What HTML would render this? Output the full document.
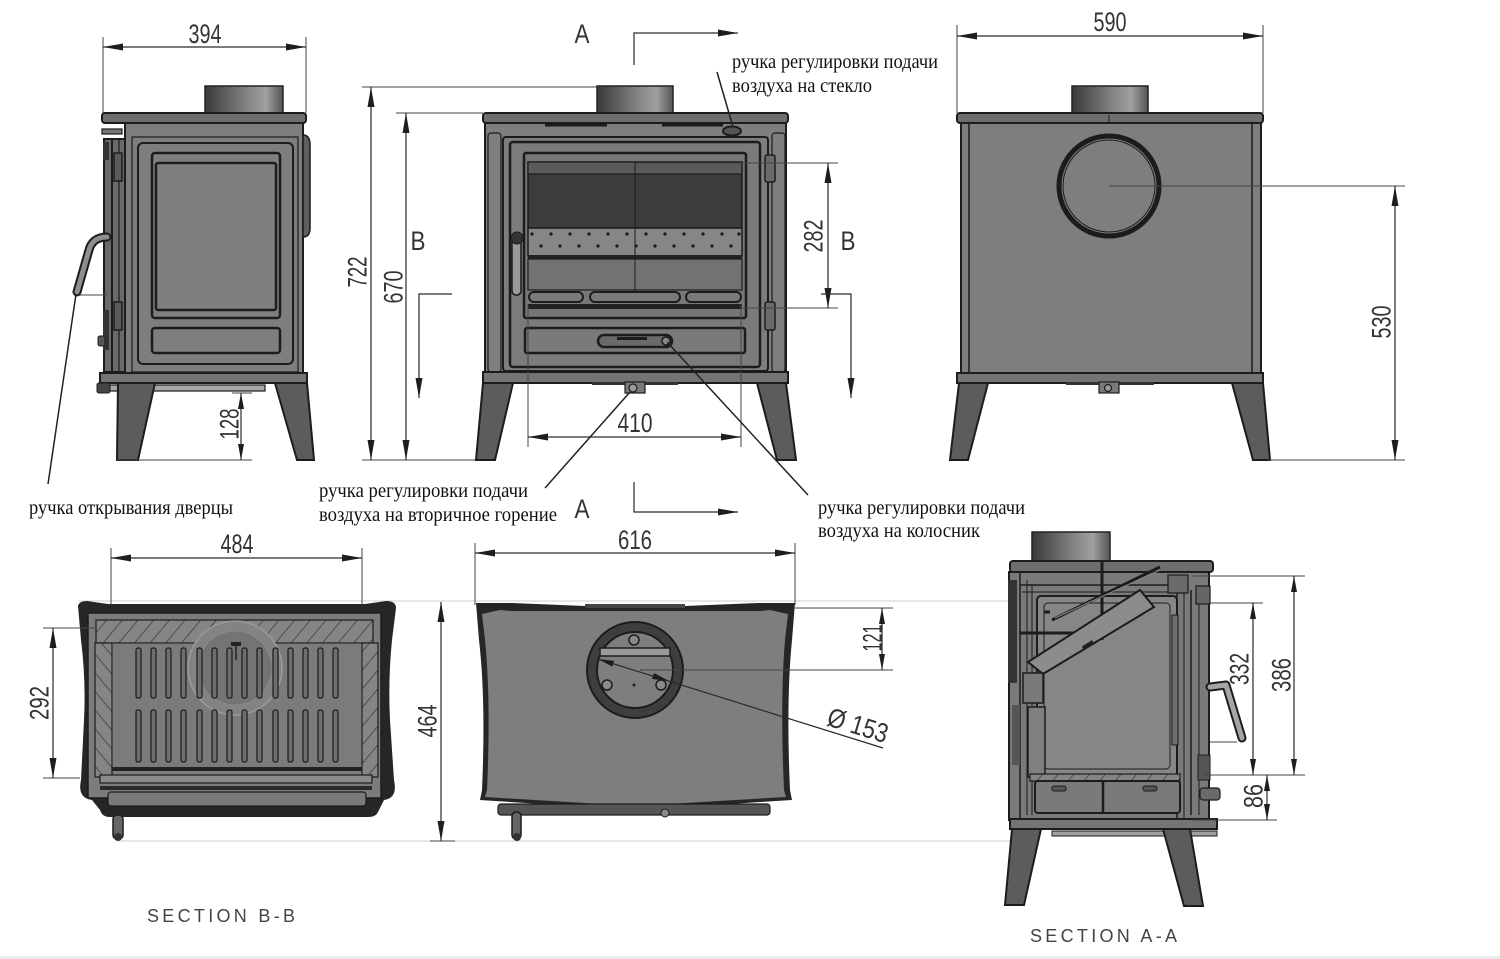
<!DOCTYPE html>
<html><head><meta charset="utf-8">
<style>
html,body{margin:0;padding:0;background:#fff;}
svg{display:block;}
.dim{stroke:#2a2a2a;stroke-width:1.2;fill:none;}
.ext{stroke:#444;stroke-width:1;fill:none;}
.fnt{stroke:#cfcfcf;stroke-width:1;fill:none;}
.n{font-family:"Liberation Sans",sans-serif;font-size:27px;fill:#333;}
.lbl{font-family:"Liberation Serif","DejaVu Serif",serif;font-size:20px;fill:#111;}
.sec{font-family:"Liberation Sans",sans-serif;font-size:18px;fill:#444;}
.o{stroke:#1c1c1c;stroke-width:2;}
.t{stroke:#1c1c1c;stroke-width:1.2;fill:none;}
</style></head><body>
<svg width="1500" height="959" viewBox="0 0 1500 959" xmlns="http://www.w3.org/2000/svg">
<defs>
<marker id="ar" viewBox="0 0 20 7" refX="20" refY="3.5" markerWidth="20" markerHeight="7" markerUnits="userSpaceOnUse" orient="auto-start-reverse"><path d="M0,0L20,3.5L0,7z" fill="#1e1e1e"/></marker>
<marker id="as" viewBox="0 0 16 6" refX="16" refY="3" markerWidth="16" markerHeight="6" markerUnits="userSpaceOnUse" orient="auto-start-reverse"><path d="M0,0L16,3L0,6z" fill="#1e1e1e"/></marker>
<linearGradient id="pipe" x1="0" x2="1" y1="0" y2="0"><stop offset="0" stop-color="#3a3a3a"/><stop offset="0.55" stop-color="#858585"/><stop offset="0.78" stop-color="#a0a0a0"/><stop offset="1" stop-color="#555"/></linearGradient>
<pattern id="hatch" width="12" height="12" patternUnits="userSpaceOnUse" patternTransform="rotate(40)"><rect width="12" height="12" fill="#858585"/><line x1="0" y1="0" x2="0" y2="12" stroke="#2a2a2a" stroke-width="1.2"/></pattern>
<pattern id="hatch2" width="12" height="12" patternUnits="userSpaceOnUse" patternTransform="rotate(-40)"><rect width="12" height="12" fill="#858585"/><line x1="0" y1="0" x2="0" y2="12" stroke="#2a2a2a" stroke-width="1.2"/></pattern>
</defs>
<rect width="1500" height="959" fill="#fff"/>
<rect x="0" y="956" width="1500" height="3" fill="#ececec"/>

<!-- ============ LEFT SIDE VIEW ============ -->
<line class="ext" x1="103" y1="37" x2="103" y2="113"/>
<line class="ext" x1="306" y1="37" x2="306" y2="113"/>
<line class="dim" x1="103" y1="47" x2="306" y2="47" marker-start="url(#ar)" marker-end="url(#ar)"/>
<text class="n" x="205" y="43" text-anchor="middle" textLength="33" lengthAdjust="spacingAndGlyphs">394</text>

<rect x="205" y="86" width="78" height="27" fill="url(#pipe)" stroke="#222" stroke-width="1.5"/>
<rect x="102" y="113" width="204" height="10" rx="3" fill="#6e6e6e" class="o"/>
<rect x="102" y="129" width="20" height="5" fill="#777" stroke="#1c1c1c" stroke-width="1.2"/>
<rect x="125" y="123" width="178" height="250" fill="#7e7e7e" class="o"/>
<rect x="132" y="137" width="166" height="235" fill="none" class="t"/>
<rect x="138" y="143" width="155" height="221" rx="5" fill="none" class="o"/>
<rect x="152" y="153" width="128" height="165" rx="3" fill="none" stroke="#1c1c1c" stroke-width="2.5"/>
<rect x="156" y="163" width="120" height="147" rx="2" fill="none" stroke="#1c1c1c" stroke-width="2.5"/>
<rect x="152" y="328" width="128" height="25" rx="3" fill="none" stroke="#1c1c1c" stroke-width="2.5"/>
<rect x="104" y="139" width="21" height="233" fill="#6a6a6a" class="o"/>
<line x1="112" y1="139" x2="112" y2="372" stroke="#1c1c1c" stroke-width="2"/>
<line x1="119" y1="139" x2="119" y2="372" stroke="#1c1c1c" stroke-width="1.2"/>
<rect x="114" y="153" width="8" height="28" fill="#5a5a5a" stroke="#1c1c1c" stroke-width="1.5"/>
<rect x="114" y="302" width="8" height="28" fill="#5a5a5a" stroke="#1c1c1c" stroke-width="1.5"/>
<rect x="103" y="142" width="6" height="18" fill="#333"/>
<rect x="103" y="310" width="6" height="40" fill="#333"/>
<rect x="98" y="336" width="7" height="10" rx="2" fill="#555" stroke="#1c1c1c"/>
<path d="M303,135 Q310,135 310,145 L310,228 Q310,237 303,237z" fill="#5e5e5e" stroke="#1c1c1c" stroke-width="1.5"/>
<rect x="100" y="373" width="207" height="10" fill="#747474" class="o"/>
<rect x="100" y="385" width="165" height="6" fill="#a8a8a8" stroke="#1c1c1c" stroke-width="1.2"/>
<rect x="97" y="383" width="13" height="10" rx="2" fill="#444" stroke="#1c1c1c"/>
<polygon points="118,383 155,383 138,460 117,460" fill="#5c5c5c" class="o"/>
<polygon points="275,383 307,383 314,460 297,460" fill="#5c5c5c" class="o"/>
<path d="M107,237 C97,237 91,242 89,250 L77,292" fill="none" stroke="#1c1c1c" stroke-width="9" stroke-linecap="round"/>
<path d="M107,237 C97,237 91,242 89,250 L77,292" fill="none" stroke="#8e8e8e" stroke-width="5" stroke-linecap="round"/>
<line class="ext" x1="80" y1="295" x2="107" y2="295"/>
<line x1="76" y1="294" x2="48" y2="484" stroke="#222" stroke-width="1.5"/>
<line class="ext" x1="232" y1="393" x2="252" y2="393"/>
<line class="ext" x1="117" y1="460" x2="252" y2="460"/>
<line class="dim" x1="241" y1="393" x2="241" y2="460" marker-start="url(#as)" marker-end="url(#as)"/>
<text class="n" transform="translate(229,424) rotate(-90)" text-anchor="middle" dy="9.5" textLength="31" lengthAdjust="spacingAndGlyphs">128</text>

<line class="ext" x1="362" y1="87" x2="597" y2="87"/>
<line class="ext" x1="396" y1="113" x2="483" y2="113"/>
<line class="ext" x1="362" y1="460" x2="478" y2="460"/>
<line class="dim" x1="371" y1="87" x2="371" y2="460" marker-start="url(#ar)" marker-end="url(#ar)"/>
<line class="dim" x1="406" y1="113" x2="406" y2="460" marker-start="url(#ar)" marker-end="url(#ar)"/>
<text class="n" transform="translate(357,272) rotate(-90)" text-anchor="middle" dy="9.5" textLength="31" lengthAdjust="spacingAndGlyphs">722</text>
<text class="n" transform="translate(393,287) rotate(-90)" text-anchor="middle" dy="9.5" textLength="33" lengthAdjust="spacingAndGlyphs">670</text>
<text class="n" x="418" y="250" text-anchor="middle" textLength="15" lengthAdjust="spacingAndGlyphs">B</text>
<polyline class="dim" points="452,294 419,294 419,398" marker-end="url(#ar)"/>

<!-- ============ FRONT VIEW ============ -->
<rect x="597" y="86" width="76" height="27" fill="url(#pipe)" stroke="#222" stroke-width="1.5"/>
<rect x="483" y="113" width="305" height="10" rx="3" fill="#6e6e6e" class="o"/>
<rect x="485" y="123" width="301" height="250" fill="#7e7e7e" class="o"/>
<line x1="545" y1="125" x2="607" y2="125" stroke="#1c1c1c" stroke-width="3"/>
<line x1="662" y1="125" x2="723" y2="125" stroke="#1c1c1c" stroke-width="3"/>
<rect x="488" y="133" width="13" height="239" rx="3" fill="none" class="t"/>
<rect x="772" y="133" width="13" height="239" rx="3" fill="none" class="t"/>
<ellipse cx="732" cy="131" rx="9" ry="4.5" fill="#555" stroke="#1c1c1c" stroke-width="2"/>
<rect x="503" y="137" width="265" height="234" rx="3" fill="none" class="o"/>
<rect x="510" y="142" width="250" height="225" rx="3" fill="#7b7b7b" stroke="#1c1c1c" stroke-width="2.5"/>
<rect x="524" y="153" width="222" height="165" rx="2" fill="#777" stroke="#1c1c1c" stroke-width="2.5"/>
<rect x="528" y="162" width="214" height="66" fill="#3c3c3c" stroke="#1c1c1c" stroke-width="1.5"/>
<rect x="528" y="162" width="214" height="12" fill="#5a5a5a" stroke="#1c1c1c" stroke-width="1.2"/>
<rect x="528" y="228" width="214" height="28" fill="#868686" stroke="#1c1c1c" stroke-width="1.5"/>
<g fill="#1c1c1c">
<circle cx="532" cy="234" r="1.6"/><circle cx="551" cy="234" r="1.6"/><circle cx="570" cy="234" r="1.6"/><circle cx="589" cy="234" r="1.6"/><circle cx="608" cy="234" r="1.6"/><circle cx="627" cy="234" r="1.6"/><circle cx="646" cy="234" r="1.6"/><circle cx="665" cy="234" r="1.6"/><circle cx="684" cy="234" r="1.6"/><circle cx="703" cy="234" r="1.6"/><circle cx="722" cy="234" r="1.6"/><circle cx="739" cy="234" r="1.6"/>
<circle cx="541" cy="246" r="1.6"/><circle cx="560" cy="246" r="1.6"/><circle cx="579" cy="246" r="1.6"/><circle cx="598" cy="246" r="1.6"/><circle cx="617" cy="246" r="1.6"/><circle cx="636" cy="246" r="1.6"/><circle cx="655" cy="246" r="1.6"/><circle cx="674" cy="246" r="1.6"/><circle cx="693" cy="246" r="1.6"/><circle cx="712" cy="246" r="1.6"/><circle cx="731" cy="246" r="1.6"/>
</g>
<rect x="528" y="255" width="214" height="4" fill="#222"/>
<rect x="528" y="259" width="214" height="31" fill="#727272" stroke="#1c1c1c" stroke-width="1.2"/>
<line x1="635" y1="162" x2="635" y2="300" stroke="#1c1c1c" stroke-width="1"/>
<rect x="529" y="292" width="54" height="10" rx="5" fill="#7a7a7a" class="o"/>
<rect x="590" y="292" width="90" height="10" rx="5" fill="#7a7a7a" class="o"/>
<rect x="686" y="292" width="55" height="10" rx="5" fill="#7a7a7a" class="o"/>
<rect x="528" y="304" width="214" height="5" fill="#222"/>
<rect x="525" y="328" width="220" height="25" rx="2" fill="#7a7a7a" stroke="#1c1c1c" stroke-width="2.5"/>
<rect x="598" y="335" width="74" height="12" rx="6" fill="#6a6a6a" stroke="#1c1c1c" stroke-width="2.5"/>
<rect x="617" y="337" width="30" height="3" fill="#1c1c1c"/>
<circle cx="666" cy="341" r="4" fill="#8a8a8a" stroke="#1c1c1c" stroke-width="1.5"/>
<rect x="512" y="240" width="9" height="55" rx="4" fill="#9a9a9a" stroke="#1c1c1c" stroke-width="1.5"/>
<circle cx="517" cy="238" r="6" fill="#333" stroke="#1c1c1c"/>
<rect x="765" y="155" width="10" height="27" rx="2" fill="#6a6a6a" stroke="#1c1c1c" stroke-width="1.5"/>
<rect x="765" y="302" width="10" height="28" rx="2" fill="#6a6a6a" stroke="#1c1c1c" stroke-width="1.5"/>
<rect x="483" y="372" width="305" height="11" fill="#747474" class="o"/>
<rect x="592" y="382" width="86" height="3" fill="#333"/>
<rect x="625" y="382" width="20" height="11" fill="#7a7a7a" stroke="#1c1c1c" stroke-width="1.2"/>
<circle cx="633" cy="388" r="4" fill="#999" stroke="#1c1c1c" stroke-width="1.2"/>
<polygon points="483,383 513,383 495,460 476,460" fill="#5c5c5c" class="o"/>
<polygon points="757,383 786,383 796,460 777,460" fill="#5c5c5c" class="o"/>
<line class="ext" x1="528" y1="305" x2="528" y2="447"/>
<line class="ext" x1="741" y1="305" x2="741" y2="447"/>
<line class="dim" x1="528" y1="437" x2="741" y2="437" marker-start="url(#ar)" marker-end="url(#ar)"/>
<text class="n" x="635" y="432" text-anchor="middle" textLength="35" lengthAdjust="spacingAndGlyphs">410</text>
<line class="ext" x1="636" y1="163" x2="838" y2="163"/>
<line class="ext" x1="743" y1="308" x2="838" y2="308"/>
<line class="dim" x1="828" y1="163" x2="828" y2="308" marker-start="url(#ar)" marker-end="url(#ar)"/>
<text class="n" transform="translate(813,236) rotate(-90)" text-anchor="middle" dy="9.5" textLength="33" lengthAdjust="spacingAndGlyphs">282</text>
<text class="n" x="848" y="250" text-anchor="middle" textLength="15" lengthAdjust="spacingAndGlyphs">B</text>
<polyline class="dim" points="821,294 851,294 851,398" marker-end="url(#ar)"/>
<text class="n" x="582" y="43" text-anchor="middle" textLength="15" lengthAdjust="spacingAndGlyphs">A</text>
<polyline class="dim" points="634,65 634,33 738,33" marker-end="url(#ar)"/>
<text class="n" x="582" y="518" text-anchor="middle" textLength="15" lengthAdjust="spacingAndGlyphs">A</text>
<polyline class="dim" points="634,482 634,512 738,512" marker-end="url(#ar)"/>

<line x1="717" y1="72" x2="733" y2="127" stroke="#222" stroke-width="1.5"/>
<line x1="545" y1="488" x2="630" y2="392" stroke="#222" stroke-width="1.5"/>
<line x1="667" y1="342" x2="808" y2="495" stroke="#222" stroke-width="1.5"/>
<text class="lbl" x="732" y="68" textLength="206" lengthAdjust="spacingAndGlyphs">ручка регулировки подачи</text>
<text class="lbl" x="732" y="92" textLength="140" lengthAdjust="spacingAndGlyphs">воздуха на стекло</text>
<text class="lbl" x="29" y="514" textLength="204" lengthAdjust="spacingAndGlyphs">ручка открывания дверцы</text>
<text class="lbl" x="319" y="497" textLength="209" lengthAdjust="spacingAndGlyphs">ручка регулировки подачи</text>
<text class="lbl" x="319" y="521" textLength="238" lengthAdjust="spacingAndGlyphs">воздуха на вторичное горение</text>
<text class="lbl" x="818" y="514" textLength="207" lengthAdjust="spacingAndGlyphs">ручка регулировки подачи</text>
<text class="lbl" x="818" y="537" textLength="162" lengthAdjust="spacingAndGlyphs">воздуха на колосник</text>

<!-- ============ RIGHT SIDE VIEW ============ -->
<line class="ext" x1="957" y1="25" x2="957" y2="113"/>
<line class="ext" x1="1263" y1="25" x2="1263" y2="113"/>
<line class="dim" x1="957" y1="36" x2="1263" y2="36" marker-start="url(#ar)" marker-end="url(#ar)"/>
<text class="n" x="1110" y="31" text-anchor="middle" textLength="33" lengthAdjust="spacingAndGlyphs">590</text>
<rect x="1072" y="86" width="76" height="27" fill="url(#pipe)" stroke="#222" stroke-width="1.5"/>
<rect x="957" y="113" width="306" height="10" rx="3" fill="#6e6e6e" class="o"/>
<rect x="961" y="123" width="300" height="250" fill="#7e7e7e" class="o"/>
<line x1="969" y1="123" x2="969" y2="373" stroke="#1c1c1c" stroke-width="1.5"/>
<line x1="1252" y1="123" x2="1252" y2="373" stroke="#1c1c1c" stroke-width="1.5"/>
<line x1="1109" y1="115" x2="1109" y2="123" stroke="#1c1c1c" stroke-width="1"/>
<circle cx="1109" cy="186" r="50" fill="#7e7e7e" stroke="#1c1c1c" stroke-width="5"/>
<circle cx="1109" cy="186" r="46" fill="none" stroke="#1c1c1c" stroke-width="1"/>
<line class="ext" x1="1109" y1="186" x2="1405" y2="186"/>
<rect x="957" y="373" width="306" height="10" fill="#747474" class="o"/>
<rect x="1066" y="382" width="88" height="3" fill="#333"/>
<rect x="1099" y="382" width="20" height="11" fill="#7a7a7a" stroke="#1c1c1c" stroke-width="1.2"/>
<circle cx="1108" cy="388" r="3.5" fill="#999" stroke="#1c1c1c" stroke-width="1.2"/>
<polygon points="959,383 988,383 968,460 950,460" fill="#5c5c5c" class="o"/>
<polygon points="1232,383 1263,383 1270,460 1253,460" fill="#5c5c5c" class="o"/>
<line class="ext" x1="1268" y1="460" x2="1405" y2="460"/>
<line class="dim" x1="1395" y1="186" x2="1395" y2="460" marker-start="url(#ar)" marker-end="url(#ar)"/>
<text class="n" transform="translate(1381,322) rotate(-90)" text-anchor="middle" dy="9.5" textLength="33" lengthAdjust="spacingAndGlyphs">530</text>

<line class="fnt" x1="78" y1="601" x2="1010" y2="601"/>
<line class="fnt" x1="118" y1="841" x2="1010" y2="841"/>

<!-- ============ SECTION B-B ============ -->
<line class="ext" x1="111" y1="548" x2="111" y2="604"/>
<line class="ext" x1="362" y1="548" x2="362" y2="604"/>
<line class="dim" x1="111" y1="558" x2="362" y2="558" marker-start="url(#ar)" marker-end="url(#ar)"/>
<text class="n" x="237" y="553" text-anchor="middle" textLength="33" lengthAdjust="spacingAndGlyphs">484</text>
<path d="M78,606 Q79,601 87,601 L108,604 L365,604 L386,601 Q396,601 396,608 L392,640 Q388,680 390,720 L394,780 Q398,798 384,800 L378,812 Q376,817 368,817 L110,817 Q102,817 100,810 L92,800 Q77,798 81,780 L84,720 Q86,680 81,640 Z" fill="#262626"/>
<rect x="88" y="613" width="293" height="185" fill="#7c7c7c" stroke="#1c1c1c" stroke-width="1.5"/>
<rect x="96" y="620" width="277" height="23" fill="url(#hatch)" stroke="#1c1c1c" stroke-width="1.2"/>
<rect x="95" y="643" width="17" height="134" fill="url(#hatch2)" stroke="#1c1c1c" stroke-width="1.2"/>
<rect x="362" y="643" width="16" height="134" fill="url(#hatch)" stroke="#1c1c1c" stroke-width="1.2"/>
<rect x="112" y="643" width="250" height="125" fill="#7b7b7b" stroke="#1c1c1c" stroke-width="1"/>
<circle cx="235" cy="668" r="47" fill="#838383" stroke="#9a9a9a" stroke-width="1.5"/>
<circle cx="235" cy="668" r="37" fill="#747474" stroke="#8a8a8a" stroke-width="1"/>
<line x1="236" y1="645" x2="236" y2="660" stroke="#222" stroke-width="1.5"/>
<rect x="231" y="642" width="10" height="4" fill="#222"/>
<g fill="#6e6e6e" stroke="#1c1c1c" stroke-width="1.2">
<rect x="136" y="648" width="5" height="50" rx="2"/><rect x="151" y="648" width="5" height="50" rx="2"/><rect x="166" y="648" width="5" height="50" rx="2"/><rect x="181" y="648" width="5" height="50" rx="2"/><rect x="197" y="648" width="5" height="50" rx="2"/><rect x="212" y="648" width="5" height="50" rx="2"/><rect x="227" y="648" width="5" height="50" rx="2"/><rect x="242" y="648" width="5" height="50" rx="2"/><rect x="257" y="648" width="5" height="50" rx="2"/><rect x="273" y="648" width="5" height="50" rx="2"/><rect x="288" y="648" width="5" height="50" rx="2"/><rect x="303" y="648" width="5" height="50" rx="2"/><rect x="318" y="648" width="5" height="50" rx="2"/><rect x="333" y="648" width="5" height="50" rx="2"/>
<rect x="136" y="710" width="5" height="52" rx="2"/><rect x="151" y="710" width="5" height="52" rx="2"/><rect x="166" y="710" width="5" height="52" rx="2"/><rect x="181" y="710" width="5" height="52" rx="2"/><rect x="197" y="710" width="5" height="52" rx="2"/><rect x="212" y="710" width="5" height="52" rx="2"/><rect x="227" y="710" width="5" height="52" rx="2"/><rect x="242" y="710" width="5" height="52" rx="2"/><rect x="257" y="710" width="5" height="52" rx="2"/><rect x="273" y="710" width="5" height="52" rx="2"/><rect x="288" y="710" width="5" height="52" rx="2"/><rect x="303" y="710" width="5" height="52" rx="2"/><rect x="318" y="710" width="5" height="52" rx="2"/><rect x="333" y="710" width="5" height="52" rx="2"/>
</g>
<rect x="112" y="767" width="250" height="4" fill="#222"/>
<rect x="100" y="775" width="272" height="8" fill="#8a8a8a" stroke="#1c1c1c" stroke-width="1.2"/>
<rect x="100" y="786" width="272" height="4" fill="#2a2a2a"/>
<rect x="108" y="792" width="258" height="14" rx="3" fill="#7a7a7a" stroke="#1c1c1c" stroke-width="1.2"/>
<rect x="113" y="815" width="10" height="24" rx="4" fill="#666" stroke="#1c1c1c" stroke-width="1.5"/>
<circle cx="118" cy="837" r="4" fill="#333"/>
<line class="ext" x1="43" y1="628" x2="96" y2="628"/>
<line class="ext" x1="43" y1="778" x2="80" y2="778"/>
<line class="dim" x1="53" y1="628" x2="53" y2="778" marker-start="url(#ar)" marker-end="url(#ar)"/>
<text class="n" transform="translate(39,703) rotate(-90)" text-anchor="middle" dy="9.5" textLength="34" lengthAdjust="spacingAndGlyphs">292</text>
<line class="ext" x1="430" y1="841" x2="455" y2="841"/>
<line class="dim" x1="441" y1="602" x2="441" y2="841" marker-start="url(#ar)" marker-end="url(#ar)"/>
<text class="n" transform="translate(427,721) rotate(-90)" text-anchor="middle" dy="9.5" textLength="33" lengthAdjust="spacingAndGlyphs">464</text>
<text class="sec" x="147" y="922" textLength="148" lengthAdjust="spacing">SECTION B-B</text>

<!-- ============ TOP VIEW ============ -->
<line class="ext" x1="475" y1="543" x2="475" y2="605"/>
<line class="ext" x1="795" y1="543" x2="795" y2="605"/>
<line class="dim" x1="475" y1="553" x2="795" y2="553" marker-start="url(#ar)" marker-end="url(#ar)"/>
<text class="n" x="635" y="549" text-anchor="middle" textLength="34" lengthAdjust="spacingAndGlyphs">616</text>
<path d="M476,603 L512,603 L585,606 L685,606 L758,603 L795,603 L792,640 Q786,700 790,790 L792,800 L634,810 L480,800 L482,790 Q486,700 479,640 Z" fill="#262626"/>
<path d="M482,614 L500,610 L510,611 L760,611 L770,610 L788,614 L785,640 Q780,700 784,790 L786,797 L634,806 L485,797 L487,790 Q491,700 485,640 Z" fill="#7e7e7e"/>
<rect x="585" y="604" width="100" height="4" fill="#444"/>
<rect x="498" y="804" width="272" height="11" rx="3" fill="#555" stroke="#1c1c1c" stroke-width="1.2"/>
<rect x="512" y="812" width="9" height="27" rx="4" fill="#666" stroke="#1c1c1c" stroke-width="1.5"/>
<circle cx="517" cy="837" r="4" fill="#333"/>
<circle cx="665" cy="813" r="4" fill="#888" stroke="#1c1c1c"/>
<circle cx="635" cy="670" r="48" fill="#3e3e3e" stroke="#1c1c1c" stroke-width="2"/>
<circle cx="635" cy="670" r="38" fill="#7e7e7e" stroke="#1c1c1c" stroke-width="2"/>
<rect x="600" y="648" width="70" height="8" fill="#9a9a9a" stroke="#1c1c1c" stroke-width="1.5"/>
<circle cx="634" cy="640" r="5" fill="#8a8a8a" stroke="#1c1c1c" stroke-width="1.5"/>
<circle cx="607" cy="685" r="5" fill="#8a8a8a" stroke="#1c1c1c" stroke-width="1.5"/>
<circle cx="661" cy="685" r="5" fill="#8a8a8a" stroke="#1c1c1c" stroke-width="1.5"/>
<circle cx="634" cy="685" r="1.5" fill="#1c1c1c"/>
<line class="dim" x1="598" y1="659" x2="883" y2="748" marker-start="url(#as)"/>
<path d="M669,681 L654,673 L652,679 Z" fill="#1e1e1e"/>
<text class="n" transform="translate(858,725) rotate(17)" text-anchor="middle" dy="9.5" textLength="62" lengthAdjust="spacingAndGlyphs">Ø 153</text>
<line class="ext" x1="795" y1="608" x2="893" y2="608"/>
<line class="ext" x1="640" y1="670" x2="893" y2="670"/>
<line class="dim" x1="882" y1="608" x2="882" y2="670" marker-start="url(#as)" marker-end="url(#as)"/>
<text class="n" transform="translate(872,638) rotate(-90)" text-anchor="middle" dy="9.5" textLength="27" lengthAdjust="spacingAndGlyphs">121</text>

<!-- ============ SECTION A-A ============ -->
<rect x="1032" y="532" width="78" height="29" fill="url(#pipe)" stroke="#222" stroke-width="1.5"/>
<rect x="1010" y="561" width="203" height="11" rx="3" fill="#6e6e6e" class="o"/>
<rect x="1009" y="572" width="200" height="248" fill="#7a7a7a" class="o"/>
<rect x="1008" y="580" width="9" height="103" fill="#333"/>
<line x1="1020" y1="572" x2="1020" y2="820" stroke="#1c1c1c" stroke-width="1.5"/>
<line x1="1027" y1="580" x2="1027" y2="815" stroke="#1c1c1c" stroke-width="1"/>
<line x1="1032" y1="585" x2="1032" y2="815" stroke="#1c1c1c" stroke-width="1"/>
<line x1="1020" y1="585" x2="1180" y2="585" stroke="#1c1c1c" stroke-width="1.5"/>
<line x1="1022" y1="592" x2="1175" y2="592" stroke="#1c1c1c" stroke-width="1"/>
<rect x="1037" y="596" width="140" height="180" rx="4" fill="#868686" stroke="#1c1c1c" stroke-width="2"/>
<rect x="1044" y="603" width="126" height="166" rx="4" fill="none" stroke="#1c1c1c" stroke-width="1"/>
<line x1="1102" y1="562" x2="1102" y2="640" stroke="#1c1c1c" stroke-width="3"/>
<line x1="1020" y1="633" x2="1103" y2="633" stroke="#1c1c1c" stroke-width="3"/>
<line x1="1044" y1="612" x2="1050" y2="612" stroke="#1c1c1c" stroke-width="3"/>
<polygon points="1028,662 1140,590 1154,607 1043,674" fill="#8c8c8c" stroke="#1c1c1c" stroke-width="2"/>
<line x1="1052" y1="620" x2="1160" y2="567" stroke="#1c1c1c" stroke-width="3"/>
<line x1="1055" y1="618" x2="1160" y2="570" stroke="#888" stroke-width="1"/>
<rect x="1082" y="643" width="12" height="4" fill="#222" transform="rotate(-32 1088 645)"/>
<rect x="1023" y="673" width="20" height="30" fill="#7a7a7a" stroke="#1c1c1c" stroke-width="1.5"/>
<rect x="1028" y="707" width="17" height="70" fill="#808080" stroke="#1c1c1c" stroke-width="1.5"/>
<rect x="1012" y="705" width="8" height="60" fill="#555"/>
<line x1="1177" y1="575" x2="1177" y2="818" stroke="#1c1c1c" stroke-width="1.5"/>
<line x1="1184" y1="580" x2="1184" y2="818" stroke="#1c1c1c" stroke-width="1"/>
<line x1="1191" y1="590" x2="1191" y2="815" stroke="#1c1c1c" stroke-width="1.5"/>
<line x1="1199" y1="590" x2="1199" y2="815" stroke="#1c1c1c" stroke-width="1"/>
<rect x="1168" y="575" width="20" height="18" fill="#6a6a6a" stroke="#1c1c1c" stroke-width="1.2"/>
<rect x="1196" y="586" width="14" height="18" fill="#666" stroke="#1c1c1c" stroke-width="1.2"/>
<rect x="1172" y="615" width="6" height="130" fill="#6e6e6e" stroke="#1c1c1c" stroke-width="1"/>
<rect x="1198" y="755" width="12" height="25" fill="#555" stroke="#1c1c1c" stroke-width="1"/>
<rect x="1030" y="774" width="150" height="7" fill="url(#hatch)" stroke="#1c1c1c" stroke-width="1.2"/>
<rect x="1035" y="781" width="145" height="32" rx="3" fill="#7a7a7a" stroke="#1c1c1c" stroke-width="2"/>
<line x1="1103" y1="781" x2="1103" y2="813" stroke="#1c1c1c" stroke-width="2.5"/>
<rect x="1052" y="786" width="14" height="5" rx="2" fill="#555" stroke="#1c1c1c"/>
<rect x="1143" y="786" width="14" height="5" rx="2" fill="#555" stroke="#1c1c1c"/>
<rect x="1200" y="788" width="20" height="12" rx="3" fill="#6a6a6a" stroke="#1c1c1c" stroke-width="1.2"/>
<rect x="1010" y="819" width="207" height="10" fill="#747474" class="o"/>
<rect x="1052" y="831" width="165" height="5" fill="#a0a0a0" stroke="#1c1c1c" stroke-width="1"/>
<polygon points="1012,829 1041,829 1024,905 1005,905" fill="#5c5c5c" class="o"/>
<polygon points="1163,829 1190,829 1203,906 1184,906" fill="#5c5c5c" class="o"/>
<path d="M1210,687 L1226,685 L1242,738" fill="none" stroke="#1c1c1c" stroke-width="9" stroke-linecap="round" stroke-linejoin="round"/>
<path d="M1210,687 L1226,685 L1242,738" fill="none" stroke="#a5a5a5" stroke-width="5" stroke-linecap="round" stroke-linejoin="round"/>
<line class="ext" x1="1210" y1="742" x2="1237" y2="742"/>
<line class="ext" x1="1193" y1="576" x2="1305" y2="576"/>
<line class="ext" x1="1210" y1="603" x2="1263" y2="603"/>
<line class="ext" x1="1205" y1="775" x2="1305" y2="775"/>
<line class="ext" x1="1193" y1="820" x2="1277" y2="820"/>
<line class="dim" x1="1294" y1="576" x2="1294" y2="775" marker-start="url(#as)" marker-end="url(#as)"/>
<line class="dim" x1="1253" y1="603" x2="1253" y2="775" marker-start="url(#as)" marker-end="url(#as)"/>
<line class="dim" x1="1267" y1="775" x2="1267" y2="820" marker-start="url(#as)" marker-end="url(#as)"/>
<text class="n" transform="translate(1239,669) rotate(-90)" text-anchor="middle" dy="9.5" textLength="32" lengthAdjust="spacingAndGlyphs">332</text>
<text class="n" transform="translate(1281,675) rotate(-90)" text-anchor="middle" dy="9.5" textLength="34" lengthAdjust="spacingAndGlyphs">386</text>
<text class="n" transform="translate(1253,796) rotate(-90)" text-anchor="middle" dy="9.5" textLength="24" lengthAdjust="spacingAndGlyphs">86</text>
<text class="sec" x="1030" y="942" textLength="147" lengthAdjust="spacing">SECTION A-A</text>
</svg>
</body></html>
